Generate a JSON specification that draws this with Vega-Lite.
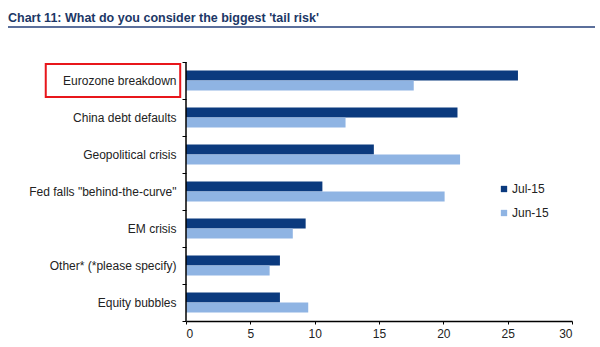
{
  "$schema": "https://vega.github.io/schema/vega-lite/v6.json",
  "background": "white",
  "autosize": {"type": "none"},
  "padding": {"left": 8, "top": 27, "right": 5, "bottom": 26},
  "width": 587,
  "height": 294,
  "view": {"stroke": "#5b6f9b", "strokeWidth": 2, "strokeDash": [587, 3000]},
  "config": {"font": "Liberation Sans"},
  "title": {"text": "Chart 11: What do you consider the biggest 'tail risk'", "anchor": "start", "frame": "group", "font": "Liberation Sans", "fontWeight": "bold", "fontSize": 12.5, "color": "#1c3766", "baseline": "alphabetic", "offset": -13},
  "data": {"values": [
    {"risk": "Eurozone breakdown", "series": "Jul-15", "value": 25.8},
    {"risk": "Eurozone breakdown", "series": "Jun-15", "value": 17.7},
    {"risk": "China debt defaults", "series": "Jul-15", "value": 21.1},
    {"risk": "China debt defaults", "series": "Jun-15", "value": 12.4},
    {"risk": "Geopolitical crisis", "series": "Jul-15", "value": 14.6},
    {"risk": "Geopolitical crisis", "series": "Jun-15", "value": 21.3},
    {"risk": "Fed falls \"behind-the-curve\"", "series": "Jul-15", "value": 10.6},
    {"risk": "Fed falls \"behind-the-curve\"", "series": "Jun-15", "value": 20.1},
    {"risk": "EM crisis", "series": "Jul-15", "value": 9.3},
    {"risk": "EM crisis", "series": "Jun-15", "value": 8.3},
    {"risk": "Other* (*please specify)", "series": "Jul-15", "value": 7.3},
    {"risk": "Other* (*please specify)", "series": "Jun-15", "value": 6.5},
    {"risk": "Equity bubbles", "series": "Jul-15", "value": 7.3},
    {"risk": "Equity bubbles", "series": "Jun-15", "value": 9.5}
  ]},
  "layer": [
    {
      "mark": {"type": "bar"},
      "encoding": {
        "y": {"field": "risk", "type": "nominal", "sort": null,
          "scale": {"paddingInner": 0, "paddingOuter": 0.473, "align": 1},
          "axis": {"title": null, "orient": "left", "offset": -178, "domain": false, "labelFontSize": 12, "labelColor": "#222222", "tickBand": "extent", "tickSize": 4, "tickColor": "#000000", "labelPadding": 6}},
        "yOffset": {"field": "series", "type": "nominal", "scale": {"paddingOuter": 0.835, "paddingInner": 0}},
        "x": {"field": "value", "type": "quantitative",
          "scale": {"domain": [0, 30], "range": [178, 564]},
          "axis": {"title": null, "values": [0, 5, 10, 15, 20, 25, 30], "grid": false, "tickSize": 3, "tickColor": "#000000", "domainColor": "#000000", "domainWidth": 1.5, "labelFontSize": 12, "labelColor": "#222222", "labelPadding": 4}},
        "color": {"field": "series", "type": "nominal",
          "scale": {"domain": ["Jul-15", "Jun-15"], "range": ["#0b3a7e", "#8fb4e3"]},
          "legend": {"title": null, "orient": "none", "legendX": 490, "legendY": 156, "padding": 0, "symbolType": "square", "symbolSize": 40, "symbolStrokeWidth": 0, "labelFontSize": 12, "labelColor": "#222222", "rowPadding": 12, "labelOffset": 2}}
      }
    },
    {
      "data": {"values": [{}]},
      "mark": {"type": "rule", "color": "#000000", "strokeWidth": 1.5},
      "encoding": {
        "x": {"datum": 0},
        "y": {"datum": "Eurozone breakdown", "type": "nominal", "bandPosition": 0},
        "y2": {"datum": "Equity bubbles", "bandPosition": 1}
      }
    },
    {
      "data": {"values": [{}]},
      "mark": {"type": "rect", "fill": null, "stroke": "#e8161b", "strokeWidth": 2, "clip": false, "height": 33},
      "encoding": {
        "y": {"datum": "Eurozone breakdown", "type": "nominal"},
        "x": {"datum": -10.9},
        "x2": {"datum": -0.45}
      }
    }
  ]
}
